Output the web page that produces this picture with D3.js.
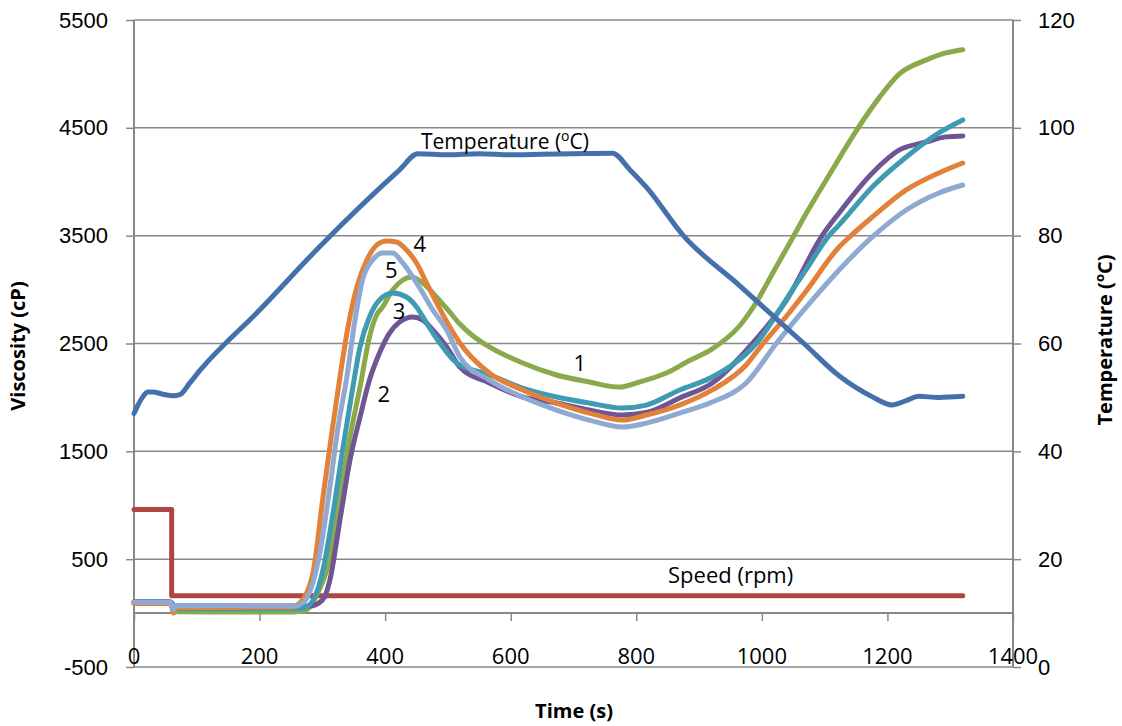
<!DOCTYPE html>
<html lang="en">
<head>
<meta charset="utf-8">
<style>
  body { margin: 0; background: #fff; }
  svg { font-family: "Open Sans", sans-serif; }
  .tick text { font-size: 22px; fill: #000; }
  .ttl { font-weight: bold; font-size: 20px; }
  .lbl { font-size: 22px; }
</style>
<script src="https://cdn.jsdelivr.net/npm/d3@7"></script>
</head>
<body>
<script>
// time (s), viscosity (cP)
var visc1 = [[0,100],[58,100],[62,40],[68,12],[150,10],[255,10],[270,20],[280,56],[292,180],[307,399],[318,700],[328,1076],[344,1633],[360,2096],[375,2560],[386,2760],[396,2839],[412,2996],[428,3089],[442,3117],[460,3061],[482,2930],[503,2790],[519,2680],[540,2570],[566,2468],[619,2319],[673,2208],[725,2143],[773,2096],[805,2143],[848,2226],[884,2340],[921,2450],[964,2660],[991,2880],[1017,3150],[1048,3470],[1071,3710],[1107,4060],[1150,4470],[1187,4780],[1219,5000],[1262,5130],[1293,5195],[1320,5225]];
var visc2 = [[0,105],[58,105],[62,80],[68,65],[280,65],[300,120],[312,306],[328,863],[344,1419],[360,1818],[375,2161],[391,2412],[407,2597],[423,2699],[444,2746],[460,2718],[476,2625],[498,2468],[519,2282],[566,2134],[619,2004],[673,1948],[725,1883],[778,1837],[816,1860],[869,1994],[921,2134],[985,2500],[1039,2900],[1096,3500],[1123,3711],[1176,4082],[1219,4295],[1262,4369],[1293,4416],[1320,4425]];
var visc3 = [[0,100],[58,100],[62,60],[68,40],[262,40],[275,56],[301,399],[317,928],[333,1540],[347,2041],[360,2468],[375,2746],[391,2904],[412,2968],[434,2931],[450,2839],[466,2690],[487,2505],[514,2319],[566,2210],[619,2087],[673,2004],[725,1948],[778,1902],[816,1929],[869,2069],[921,2189],[991,2500],[1048,2990],[1071,3190],[1107,3500],[1123,3600],[1176,3952],[1230,4230],[1282,4453],[1320,4573]];
var visc4 = [[0,90],[58,90],[61,40],[63,0],[66,50],[250,55],[264,93],[285,371],[301,1076],[315,1670],[328,2189],[340,2625],[355,3024],[371,3275],[387,3414],[402,3451],[418,3442],[434,3367],[450,3247],[466,3061],[482,2876],[503,2653],[519,2505],[566,2226],[619,2069],[673,1948],[725,1855],[778,1790],[816,1837],[869,1929],[921,2069],[975,2301],[1002,2500],[1040,2760],[1071,2990],[1123,3395],[1142,3500],[1176,3673],[1230,3924],[1282,4082],[1320,4174]];
var visc5 = [[0,100],[58,100],[61,50],[63,30],[66,70],[255,65],[269,93],[296,557],[312,1169],[325,1725],[339,2189],[352,2718],[364,3089],[380,3275],[396,3340],[412,3340],[428,3247],[444,3117],[460,2968],[476,2811],[498,2625],[519,2375],[566,2161],[619,2004],[673,1883],[725,1790],[778,1725],[816,1762],[869,1855],[921,1957],[975,2134],[1023,2500],[1071,2839],[1123,3182],[1176,3488],[1230,3738],[1282,3896],[1320,3970]];
// time (s), temperature (oC)
var temperature = [[0,47],[6,48.5],[14,50.1],[22,51],[30,51],[46,50.6],[62,50.3],[73,50.5],[89,52.7],[105,55],[200,66.2],[296,78],[423,92.2],[452,95.2],[500,95],[550,95.2],[600,95],[650,95.1],[700,95.2],[762,95.3],[790,92.2],[816,89],[875,80],[964,70.8],[1017,65.2],[1067,60],[1123,54],[1176,50.1],[1207,48.6],[1230,49.4],[1250,50.2],[1282,50],[1320,50.2]];
// time (s), speed (rpm)
var speed = [[0,960],[60,960],[60,160],[1320,160]];

var viscTicks = [-500, 500, 1500, 2500, 3500, 4500, 5500];
var tempTicks = [0, 20, 40, 60, 80, 100, 120];
var timeTicks = [0, 200, 400, 600, 800, 1000, 1200, 1400];

var sampleNames = ["1", "2", "3", "4", "5"];
var sampleColors = ["#89a94a", "#6e5594", "#3f9bb3", "#e2823a", "#8ea9d2"];
// label anchor points (time, viscosity)
var sampleLabelPos = [[710, 2320], [398, 2030], [422, 2800], [455, 3420], [410, 3185]];

var width = 1122, height = 726;
var svg = d3.select("body").append("svg")
    .attr("width", width)
    .attr("height", height);

var x = d3.scaleLinear().domain([0, 1400]).range([134, 1013]);
var y = d3.scaleLinear().domain([-500, 5500]).range([667, 20]);
var y2 = d3.scaleLinear().domain([0, 120]).range([667, 20]);

var grey = "#888";
var plain = function(d) { return String(d); };

// horizontal grid
svg.append("g").selectAll("line").data(viscTicks).enter().append("line")
    .attr("x1", x(0)).attr("x2", x(1400))
    .attr("y1", function(d) { return y(d); }).attr("y2", function(d) { return y(d); })
    .attr("stroke", grey).attr("stroke-width", 1.5);

// left axis
var yAxis = svg.append("g").attr("transform", "translate(" + x(0) + ",0)")
    .call(d3.axisLeft(y).tickValues(viscTicks).tickSize(8).tickPadding(18).tickFormat(plain));
// right axis
var y2Axis = svg.append("g").attr("transform", "translate(" + x(1400) + ",0)")
    .call(d3.axisRight(y2).tickValues(tempTicks).tickSize(8).tickPadding(17).tickFormat(plain));
// time axis at viscosity 0, labels sit low
var xAxis = svg.append("g").attr("transform", "translate(0," + y(0) + ")")
    .call(d3.axisBottom(x).tickValues(timeTicks).tickSize(8).tickFormat(""));
svg.append("g").selectAll("text").data(timeTicks).enter().append("text")
    .attr("x", function(d) { return x(d); })
    .attr("y", 664)
    .attr("text-anchor", "middle")
    .attr("font-size", 22)
    .text(plain);

[yAxis, y2Axis, xAxis].forEach(function(g) {
  g.selectAll("path.domain").attr("stroke", grey).attr("stroke-width", 2);
  g.selectAll(".tick line").attr("stroke", grey).attr("stroke-width", 1.5);
});
yAxis.select("path.domain").attr("d", "M0," + y(-500) + "V" + y(5500));
y2Axis.select("path.domain").attr("d", "M0," + y2(0) + "V" + y2(120));
xAxis.select("path.domain").attr("d", "M" + x(0) + ",0H" + x(1400));

var lineV = d3.line().x(function(d) { return x(d[0]); }).y(function(d) { return y(d[1]); })
    .curve(d3.curveMonotoneX);
var lineT = d3.line().x(function(d) { return x(d[0]); }).y(function(d) { return y2(d[1]); })
    .curve(d3.curveMonotoneX);
var lineS = d3.line().x(function(d) { return x(d[0]); }).y(function(d) { return y(d[1]); });

function draw(data, gen, color) {
  svg.append("path").datum(data)
    .attr("d", gen)
    .attr("fill", "none")
    .attr("stroke", color)
    .attr("stroke-width", 5)
    .attr("stroke-linejoin", "round")
    .attr("stroke-linecap", "round");
}

draw(speed, lineS, "#ad4541");
[visc1, visc2, visc3, visc4, visc5].forEach(function(s, i) { draw(s, lineV, sampleColors[i]); });
draw(temperature, lineT, "#4471ab");

// curve labels
svg.append("g").selectAll("text").data(sampleNames).enter().append("text")
    .attr("class", "lbl")
    .attr("x", function(d, i) { return x(sampleLabelPos[i][0]); })
    .attr("y", function(d, i) { return y(sampleLabelPos[i][1]) + 8; })
    .attr("text-anchor", "middle")
    .text(function(d) { return d; });

var tl = svg.append("text").attr("class", "lbl").attr("x", 421).attr("y", 149)
    .attr("font-size", 21).style("font-size", "21px");
tl.append("tspan").text("Temperature (");
tl.append("tspan").attr("font-size", 14).attr("dy", -8).text("o");
tl.append("tspan").attr("dy", 8).text("C)");

svg.append("text").attr("class", "lbl").attr("x", 668).attr("y", 583).text("Speed (rpm)");

// axis titles
svg.append("text").attr("class", "ttl")
    .attr("x", 574).attr("y", 718).attr("text-anchor", "middle").text("Time (s)");
svg.append("text").attr("class", "ttl")
    .attr("transform", "translate(25,346) rotate(-90)")
    .attr("text-anchor", "middle").text("Viscosity (cP)");
var tr = svg.append("text").attr("class", "ttl")
    .attr("transform", "translate(1112,340) rotate(-90)")
    .attr("text-anchor", "middle");
tr.append("tspan").text("Temperature  (");
tr.append("tspan").attr("font-size", 13).attr("dy", -8).text("o");
tr.append("tspan").attr("dy", 8).text("C)");
</script>
</body>
</html>
